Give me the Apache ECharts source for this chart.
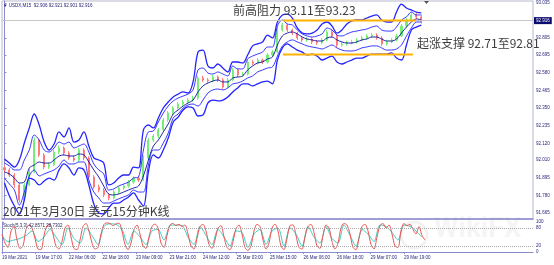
<!DOCTYPE html>
<html><head><meta charset="utf-8">
<script src="https://cdn.jsdelivr.net/npm/echarts@6/dist/echarts.min.js"></script>
<style>html,body{margin:0;padding:0;background:#fff}#c{width:554px;height:265px}</style>
</head><body><div id="c"></div>
<script>
// ---- data (USDX M15) ----
const opens = [91.960,91.946,91.913,91.848,91.750,91.848,91.933,92.141,92.043,91.965,
 91.978,92.063,92.089,92.056,92.024,92.011,92.076,92.024,91.900,91.835,
 91.815,91.783,91.763,91.802,91.828,91.841,91.867,91.893,91.880,92.024,
 92.141,92.167,92.207,92.272,92.318,92.350,92.376,92.389,92.402,92.415,
 92.546,92.533,92.528,92.552,92.533,92.487,92.533,92.598,92.565,92.572,
 92.650,92.642,92.663,92.650,92.696,92.715,92.859,92.892,92.859,92.839,
 92.807,92.794,92.800,92.781,92.775,92.794,92.846,92.820,92.761,92.768,
 92.775,92.781,92.794,92.807,92.820,92.826,92.807,92.768,92.781,92.794,
 92.820,92.885,92.924,92.957,92.944];
const closes = [91.946,91.913,91.848,91.750,91.848,91.933,92.141,92.043,91.965,91.978,
 92.063,92.089,92.056,92.024,92.011,92.076,92.024,91.900,91.835,91.815,
 91.783,91.763,91.802,91.828,91.841,91.867,91.893,91.880,92.024,92.141,
 92.167,92.207,92.272,92.318,92.350,92.376,92.389,92.402,92.415,92.546,
 92.533,92.528,92.552,92.533,92.487,92.533,92.598,92.565,92.572,92.650,
 92.642,92.663,92.650,92.696,92.715,92.859,92.892,92.859,92.839,92.807,
 92.794,92.800,92.781,92.775,92.794,92.846,92.820,92.761,92.768,92.775,
 92.781,92.794,92.807,92.820,92.826,92.807,92.768,92.781,92.794,92.820,
 92.885,92.924,92.957,92.944,92.916];
const lows = [91.930,91.900,91.830,91.735,91.740,91.840,91.925,92.030,91.950,91.952,
 91.970,92.050,92.042,92.012,91.998,92.000,92.010,91.888,91.822,91.800,
 91.770,91.748,91.755,91.790,91.815,91.830,91.855,91.868,91.872,92.015,
 92.128,92.155,92.195,92.260,92.305,92.338,92.365,92.377,92.390,92.405,
 92.520,92.515,92.518,92.520,92.475,92.478,92.525,92.552,92.555,92.562,
 92.630,92.632,92.638,92.640,92.685,92.705,92.848,92.846,92.826,92.794,
 92.780,92.782,92.768,92.762,92.765,92.785,92.808,92.748,92.750,92.756,
 92.765,92.770,92.784,92.797,92.808,92.795,92.756,92.758,92.772,92.785,
 92.812,92.875,92.915,92.932,92.901];
const highs = [91.975,91.958,91.925,91.860,91.862,91.950,92.160,92.150,92.055,91.995,
 92.078,92.105,92.100,92.068,92.040,92.090,92.088,92.035,91.912,91.850,
 91.828,91.795,91.815,91.840,91.855,91.880,91.905,91.905,92.040,92.155,
 92.180,92.220,92.285,92.330,92.362,92.388,92.402,92.415,92.430,92.560,
 92.560,92.545,92.565,92.562,92.545,92.545,92.612,92.608,92.585,92.665,
 92.662,92.676,92.672,92.708,92.728,92.875,92.905,92.900,92.868,92.848,
 92.818,92.812,92.810,92.792,92.806,92.860,92.858,92.830,92.780,92.788,
 92.795,92.806,92.820,92.832,92.840,92.838,92.818,92.795,92.806,92.833,
 92.898,92.938,92.972,92.968,92.955];

const bandUpper = [92.017,91.991,91.965,92.011,92.122,92.220,92.311,92.239,92.128,92.076,
 92.115,92.194,92.161,92.220,92.128,92.141,92.194,92.102,92.024,92.011,
 91.991,91.848,91.861,91.893,91.913,91.913,91.965,91.959,92.207,92.239,
 92.220,92.285,92.350,92.389,92.422,92.441,92.455,92.448,92.520,92.715,
 92.728,92.624,92.611,92.637,92.611,92.585,92.650,92.650,92.644,92.696,
 92.755,92.768,92.781,92.826,92.807,92.911,92.957,92.963,92.937,92.872,
 92.839,92.833,92.839,92.859,92.898,92.911,92.885,92.839,92.859,92.898,
 92.918,92.924,92.924,92.937,92.950,92.957,92.924,92.911,92.911,92.976,
 93.028,93.002,92.989,92.976,92.970];
const bandInnerUpper = [91.991,91.972,91.946,91.946,92.011,92.076,92.174,92.141,92.076,92.063,
 92.089,92.128,92.115,92.128,92.089,92.102,92.115,92.063,91.985,91.946,
 91.920,91.815,91.822,91.841,91.854,91.867,91.893,91.900,92.076,92.194,
 92.200,92.259,92.317,92.363,92.396,92.415,92.428,92.441,92.468,92.598,
 92.611,92.578,92.572,92.585,92.572,92.559,92.624,92.605,92.605,92.670,
 92.689,92.702,92.715,92.748,92.748,92.885,92.924,92.898,92.892,92.859,
 92.833,92.820,92.813,92.820,92.833,92.872,92.859,92.826,92.820,92.833,
 92.846,92.852,92.859,92.865,92.878,92.885,92.859,92.852,92.852,92.878,
 92.924,92.944,92.976,92.957,92.957];
const bandMiddle = [91.933,91.920,91.893,91.861,91.867,91.959,91.978,91.998,91.991,91.991,
 92.011,92.037,92.044,92.037,92.037,92.050,92.044,91.998,91.946,91.900,
 91.841,91.789,91.783,91.789,91.802,91.815,91.828,91.841,91.907,92.011,
 92.102,92.141,92.194,92.246,92.311,92.337,92.363,92.383,92.402,92.455,
 92.494,92.513,92.526,92.533,92.520,92.520,92.546,92.552,92.559,92.598,
 92.624,92.644,92.650,92.670,92.683,92.761,92.820,92.839,92.846,92.833,
 92.813,92.800,92.794,92.787,92.787,92.807,92.813,92.794,92.781,92.774,
 92.774,92.781,92.794,92.800,92.813,92.813,92.800,92.787,92.787,92.800,
 92.839,92.878,92.911,92.931,92.924];
const bandInnerLower = [91.893,91.854,91.815,91.717,91.802,91.907,91.946,91.907,91.920,91.933,
 91.946,91.972,92.011,91.985,91.985,91.998,91.998,91.880,91.802,91.763,
 91.730,91.730,91.743,91.757,91.770,91.783,91.815,91.802,91.802,91.978,
 92.076,92.076,92.122,92.187,92.285,92.311,92.350,92.370,92.376,92.363,
 92.402,92.448,92.468,92.474,92.468,92.481,92.507,92.513,92.526,92.546,
 92.559,92.585,92.598,92.611,92.618,92.689,92.755,92.781,92.794,92.781,
 92.768,92.755,92.748,92.742,92.735,92.748,92.761,92.742,92.728,92.722,
 92.722,92.728,92.742,92.748,92.755,92.755,92.742,92.728,92.728,92.735,
 92.761,92.820,92.872,92.911,92.911];
const bandLower = [91.861,91.776,91.711,91.659,91.750,91.893,91.880,91.848,91.874,91.893,
 91.880,91.946,91.985,91.959,91.913,91.959,91.946,91.848,91.724,91.665,
 91.659,91.698,91.730,91.730,91.750,91.770,91.796,91.750,91.711,91.933,
 92.044,92.024,92.076,92.154,92.259,92.291,92.337,92.357,92.350,92.298,
 92.304,92.383,92.402,92.396,92.402,92.422,92.455,92.481,92.507,92.507,
 92.494,92.507,92.520,92.526,92.507,92.663,92.742,92.768,92.748,92.728,
 92.715,92.696,92.702,92.689,92.663,92.676,92.689,92.650,92.637,92.650,
 92.663,92.676,92.676,92.689,92.702,92.702,92.702,92.702,92.709,92.676,
 92.663,92.761,92.859,92.878,92.891];

const stochMain = [60,30,15,70,85,40,12,20,75,90,
 80,45,10,8,55,88,92,60,20,10,
 35,80,90,50,12,8,40,85,95,70,
 30,10,15,60,92,97,95,88,94,96,
 70,25,8,30,75,90,60,20,12,50,
 85,93,80,30,15,55,90,95,88,92,
 85,90,60,20,10,45,85,92,70,25,
 12,40,80,88,50,15,8,35,78,90,
 60,15,5,20,70,92,85,40,10,30,
 80,93,70,20,8,45,88,90,55,15,
 10,50,85,92,65,20,12,55,90,80,
 35,10,30,80,95,90,60,15,8,45,
 85,92,70,25,10,50,88,95,80,90,
 60,20,15,70,95,88,92,75,60,85,
 55,40];
const stochSignal = [55,35,40,45,55,70,35,50,75,50,
 25,80,45,30,80,55,25,85,94,92,
 75,25,70,50,25,70,75,40,88,90,
 88,50,25,85,55,25,75,50,20,70,
 65,15,60,75,25,70,80,20,80,60,
 20,85,50,30,85,45,30,90,55,20,
 75,60,35,90,85,65,40,90,85,70,
 50];

const priceTicks = [93.035,92.805,92.695,92.580,92.465,92.350,92.235,92.120,92.010,91.895,91.780,91.665];
const stochTicks = [100,80,20,0];
const timeLabels = ['19 Mar 2021','19 Mar 17:00','22 Mar 06:00','22 Mar 18:00','23 Mar 09:00','23 Mar 21:00','24 Mar 12:00','25 Mar 03:00','25 Mar 15:00','26 Mar 06:00','26 Mar 18:00','29 Mar 07:00','29 Mar 19:00'];
const lastPrice = 92.916;
const resistanceLevel = 92.920;
const supportLevel = 92.699;
const resistanceSpan = [56.1, 82.9];
const supportSpan = [56.1, 82.3];

// ---- layout ----
const slotCount = 107;
const slots = Array.from({length: slotCount}, (_, i) => String(i));
const candleData = closes.map((c, i) => [opens[i], c, lows[i], highs[i]]);
const tinyFont = 'Liberation Sans';
const cjkFont = 'Noto Sans CJK SC';
const axisColor = '#8b8bd0';
const labelColor = '#26267a';
const bandBlue = '#2424ff';
const stochUnits = 177;
const labelStep = 33.5 / 3;
const timeTickValues = timeLabels.map((_, k) => k * labelStep);

const chart = echarts.init(document.getElementById('c'), null, {renderer: 'canvas'});

function bandSeries(name, data, color, width) {
  return {name, type: 'line', xAxisIndex: 0, yAxisIndex: 0, data, symbol: 'none', smooth: 0.35,
    lineStyle: {color, width}, z: 3, silent: true};
}

const option = {
  animation: false,
  backgroundColor: '#ffffff',
  grid: [
    {left: 2, right: 21, top: 1, height: 218, show: true, borderColor: '#b8b8cc', borderWidth: 1, outerBoundsMode: 'none'},
    {left: 2, right: 21, top: 222, height: 30, outerBoundsMode: 'none'}
  ],
  xAxis: [
    {type: 'category', gridIndex: 0, data: slots, boundaryGap: true,
     axisLine: {show: true, onZero: false, lineStyle: {color: axisColor, width: 1.5}},
     axisTick: {show: false}, axisLabel: {show: false}, splitLine: {show: false}},
    {type: 'value', gridIndex: 0, min: -0.5, max: slotCount - 0.5, show: false},
    {type: 'value', gridIndex: 1, min: 0, max: stochUnits,
     axisLine: {show: true, onZero: false, lineStyle: {color: axisColor, width: 1}},
     axisTick: {show: true, customValues: timeTickValues, length: 2, lineStyle: {color: axisColor}},
     axisLabel: {show: true, customValues: timeTickValues, formatter: (v) => timeLabels[Math.round(v / labelStep)] || '',
       fontSize: 4.5, color: labelColor, fontFamily: tinyFont, align: 'left', margin: 3, showMinLabel: true},
     splitLine: {show: false}}
  ],
  yAxis: [
    {type: 'value', gridIndex: 0, position: 'right', min: 91.626, max: 93.048,
     axisLine: {show: true, lineStyle: {color: axisColor, width: 1}},
     axisTick: {show: true, customValues: priceTicks, length: 2, lineStyle: {color: axisColor}},
     axisLabel: {show: true, customValues: priceTicks, formatter: (v) => v.toFixed(3),
       fontSize: 4.5, color: labelColor, fontFamily: tinyFont, margin: 3},
     splitLine: {show: false}},
    {type: 'value', gridIndex: 1, position: 'right', min: 0, max: 100,
     axisLine: {show: true, lineStyle: {color: axisColor, width: 1}},
     axisTick: {show: true, customValues: stochTicks, length: 2, lineStyle: {color: axisColor}},
     axisLabel: {show: true, customValues: stochTicks, fontSize: 4.5, color: labelColor, fontFamily: tinyFont, margin: 3},
     splitLine: {show: false}}
  ],
  series: [
    {name: 'USDX', type: 'candlestick', xAxisIndex: 0, yAxisIndex: 0, data: candleData, barWidth: 1.6, z: 2,
     itemStyle: {color: '#74ee74', color0: '#ff7a7a', borderColor: '#74ee74', borderColor0: '#ff7a7a', borderWidth: 1},
     markLine: {silent: true, symbol: ['none', 'none'], data: [{yAxis: lastPrice}],
       lineStyle: {color: '#c6c6c6', width: 1, type: 'solid'},
       label: {show: true, position: 'end', formatter: lastPrice.toFixed(3), color: '#ffffff', backgroundColor: '#0c0c70',
         fontSize: 4.5, fontFamily: tinyFont, padding: [1, 2, 1, 2], distance: 1}}},
    bandSeries('upper', bandUpper, bandBlue, 1.3),
    bandSeries('innerUpper', bandInnerUpper, bandBlue, 0.9),
    bandSeries('middle', bandMiddle, '#1010a0', 0.9),
    bandSeries('innerLower', bandInnerLower, bandBlue, 0.9),
    bandSeries('lower', bandLower, bandBlue, 1.3),
    {name: 'resistance', type: 'line', xAxisIndex: 1, yAxisIndex: 0, symbol: 'none', z: 5, silent: true,
     data: [[resistanceSpan[0], resistanceLevel], [resistanceSpan[1], resistanceLevel]], lineStyle: {color: '#ffb300', width: 2}},
    {name: 'support', type: 'line', xAxisIndex: 1, yAxisIndex: 0, symbol: 'none', z: 5, silent: true,
     data: [[supportSpan[0], supportLevel], [supportSpan[1], supportLevel]], lineStyle: {color: '#ffb300', width: 2}},
    {name: 'signal', type: 'line', xAxisIndex: 2, yAxisIndex: 1, symbol: 'none', smooth: 0.3, silent: true,
     data: stochSignal.map((v, i) => [i * 2, v]), lineStyle: {color: '#3cd0c0', width: 1}},
    {name: 'stoch', type: 'line', xAxisIndex: 2, yAxisIndex: 1, symbol: 'none', smooth: 0.3, silent: true,
     data: stochMain.map((v, i) => [i, v]), lineStyle: {color: '#f05050', width: 1},
     markLine: {silent: true, symbol: ['none', 'none'], data: [{yAxis: 80}, {yAxis: 20}],
       lineStyle: {color: '#a8a8a8', width: 1, type: 'dotted'}, label: {show: false}}}
  ],
  graphic: [
    {type: 'text', left: 3, top: 3, z: 100, style: {text: '▼ USDX,M15  92.906 92.921 92.901 92.916', fontSize: 4.5, fill: '#1c1c70', fontFamily: tinyFont}},
    {type: 'text', left: 3, top: 223, z: 100, style: {text: 'Stoch(5,3,3) 42.8571 38.7302', fontSize: 4.5, fill: '#2a2a60', fontFamily: tinyFont}},
    {type: 'text', left: 233, top: 4, z: 100, style: {text: '前高阻力 93.11至93.23', fontSize: 12, fill: '#3c3c3c', fontFamily: cjkFont}},
    {type: 'text', left: 417, top: 37, z: 100, style: {text: '起涨支撑 92.71至92.81', fontSize: 12, fill: '#3c3c3c', fontFamily: cjkFont}},
    {type: 'text', left: 3, top: 205, z: 100, style: {text: '2021年3月30日 美元15分钟K线', fontSize: 12, fill: '#3c3c3c', fontFamily: cjkFont}},
    {type: 'text', left: 434, top: 216, z: 1, style: {text: 'WikiFX', fontSize: 28, fontWeight: 'bold', fill: 'rgba(110,110,110,0.07)', fontFamily: 'Roboto'}},
    {type: 'circle', shape: {cx: 414, cy: 235, r: 13}, z: 1, style: {fill: 'none', stroke: 'rgba(110,110,110,0.09)', lineWidth: 3}},
    {type: 'polygon', shape: {points: [[424, 1], [429, 1], [426.5, 4]]}, z: 100, style: {fill: '#555'}}
  ]
};
chart.setOption(option);
</script>
</body></html>
